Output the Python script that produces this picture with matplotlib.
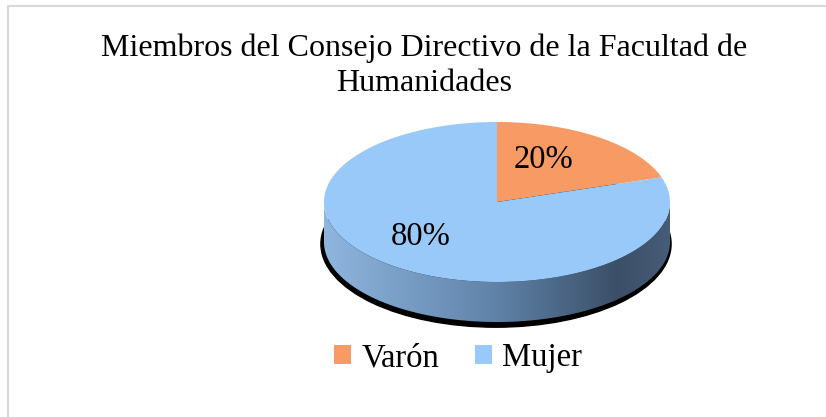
import numpy as np
import matplotlib
matplotlib.use('agg')
import matplotlib.pyplot as plt
from matplotlib.patches import Polygon, Patch, Ellipse
from matplotlib.colors import LinearSegmentedColormap

# datos
categorias = ['Varón', 'Mujer']
porcentajes = [20, 80]
colores = ['#f79a63', '#99c9f9']
titulo = 'Miembros del Consejo Directivo de la Facultad de\nHumanidades'

# posición radial de las etiquetas (x, y) como fracción del radio
pos_etiq = [(0.46, 0.65), (0.75, 0.53)]

plt.rcParams['font.family'] = ['Liberation Serif', 'DejaVu Serif']

fig = plt.figure(figsize=(8.26, 4.17), dpi=100)
ax = fig.add_axes([0, 0, 1, 1])
ax.set_xlim(0, 826)
ax.set_ylim(417, 0)
ax.axis('off')

# marco del gráfico
ax.plot([8, 8, 826], [417, 6, 6], color='#d9d9d9', lw=1.5)

# geometría del pastel 3D (píxeles)
cx, cy, a, b, h = 497, 202, 173, 80, 40


def borde(t):
    t = np.radians(t)
    return cx + a * np.cos(t), cy - b * np.sin(t)


# sombra bajo la base
ax.add_patch(Ellipse((cx - 1, cy + h + 2), 2 * a * 1.012, 2 * b * 1.04,
                     color='black', zorder=1))

# lateral (mitad frontal)
t = np.linspace(180, 360, 200)
xs, ys = borde(t)
lado = np.concatenate([np.column_stack([xs, ys]),
                       np.column_stack([xs[::-1], ys[::-1] + h])])
p_lado = Polygon(lado, closed=True, facecolor='none', edgecolor='none', zorder=2)
ax.add_patch(p_lado)
grad = LinearSegmentedColormap.from_list('lado', [
    (0.0, '#8fb6df'), (0.5, '#5f82a8'), (0.85, '#3b4f67'), (1.0, '#475c77')])
img = ax.imshow(np.linspace(0, 1, 256)[None, :], cmap=grad, aspect='auto',
                extent=[cx - a, cx + a, cy + b + h + 2, cy - 2], zorder=2)
img.set_clip_path(p_lado)

# cara superior
inicio = 90
for p, col, (fx, fy) in zip(porcentajes, colores, pos_etiq):
    fin = inicio - 360 * p / 100
    t = np.linspace(inicio, fin, 200)
    xs, ys = borde(t)
    pts = np.vstack([[cx, cy], np.column_stack([xs, ys])])
    ax.add_patch(Polygon(pts, closed=True, color=col, zorder=3, lw=0))
    medio = np.radians((inicio + fin) / 2)
    lx = cx + fx * a * np.cos(medio)
    ly = cy - fy * b * np.sin(medio)
    ax.text(lx, ly, f'{p}%', ha='center', va='center', fontsize=23.5, zorder=4)
    inicio = fin

ax.text(424, 56, titulo.split('\n')[0], ha='center', va='baseline', fontsize=23)
ax.text(424, 91, titulo.split('\n')[1], ha='center', va='baseline', fontsize=23)

handles = [Patch(facecolor=c, edgecolor='none') for c in colores]
fig.legend(handles, categorias, loc='center', bbox_to_anchor=(458 / 826, 1 - 358 / 417),
           ncol=2, frameon=False, fontsize=23.5, handlelength=0.52, handleheight=0.52,
           handletextpad=0.3, columnspacing=1.1, borderpad=0)

fig.savefig('out.png', dpi=100)
